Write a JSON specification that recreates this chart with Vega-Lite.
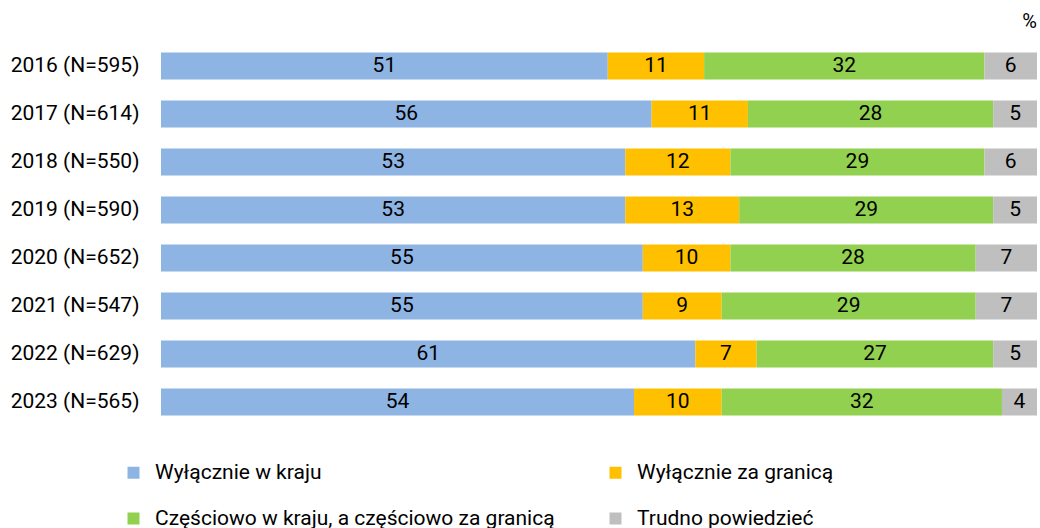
{
  "$schema": "https://vega.github.io/schema/vega-lite/v6.json",
  "width": 876,
  "height": 384,
  "autosize": {"type": "none"},
  "padding": {"left": 161, "top": 42, "right": 3, "bottom": 102},
  "background": "white",
  "title": {"text": "%", "anchor": "end", "orient": "top", "font": "Roboto", "fontSize": 20, "fontWeight": "normal", "color": "#000000", "offset": 10},
  "config": {"view": {"stroke": null}, "font": "Roboto"},
  "data": {"values": [
    {"year": "2016 (N=595)", "cat": "Wyłącznie w kraju", "order": 1, "value": 51},
    {"year": "2016 (N=595)", "cat": "Wyłącznie za granicą", "order": 2, "value": 11},
    {"year": "2016 (N=595)", "cat": "Częściowo w kraju, a częściowo za granicą", "order": 3, "value": 32},
    {"year": "2016 (N=595)", "cat": "Trudno powiedzieć", "order": 4, "value": 6},
    {"year": "2017 (N=614)", "cat": "Wyłącznie w kraju", "order": 1, "value": 56},
    {"year": "2017 (N=614)", "cat": "Wyłącznie za granicą", "order": 2, "value": 11},
    {"year": "2017 (N=614)", "cat": "Częściowo w kraju, a częściowo za granicą", "order": 3, "value": 28},
    {"year": "2017 (N=614)", "cat": "Trudno powiedzieć", "order": 4, "value": 5},
    {"year": "2018 (N=550)", "cat": "Wyłącznie w kraju", "order": 1, "value": 53},
    {"year": "2018 (N=550)", "cat": "Wyłącznie za granicą", "order": 2, "value": 12},
    {"year": "2018 (N=550)", "cat": "Częściowo w kraju, a częściowo za granicą", "order": 3, "value": 29},
    {"year": "2018 (N=550)", "cat": "Trudno powiedzieć", "order": 4, "value": 6},
    {"year": "2019 (N=590)", "cat": "Wyłącznie w kraju", "order": 1, "value": 53},
    {"year": "2019 (N=590)", "cat": "Wyłącznie za granicą", "order": 2, "value": 13},
    {"year": "2019 (N=590)", "cat": "Częściowo w kraju, a częściowo za granicą", "order": 3, "value": 29},
    {"year": "2019 (N=590)", "cat": "Trudno powiedzieć", "order": 4, "value": 5},
    {"year": "2020 (N=652)", "cat": "Wyłącznie w kraju", "order": 1, "value": 55},
    {"year": "2020 (N=652)", "cat": "Wyłącznie za granicą", "order": 2, "value": 10},
    {"year": "2020 (N=652)", "cat": "Częściowo w kraju, a częściowo za granicą", "order": 3, "value": 28},
    {"year": "2020 (N=652)", "cat": "Trudno powiedzieć", "order": 4, "value": 7},
    {"year": "2021 (N=547)", "cat": "Wyłącznie w kraju", "order": 1, "value": 55},
    {"year": "2021 (N=547)", "cat": "Wyłącznie za granicą", "order": 2, "value": 9},
    {"year": "2021 (N=547)", "cat": "Częściowo w kraju, a częściowo za granicą", "order": 3, "value": 29},
    {"year": "2021 (N=547)", "cat": "Trudno powiedzieć", "order": 4, "value": 7},
    {"year": "2022 (N=629)", "cat": "Wyłącznie w kraju", "order": 1, "value": 61},
    {"year": "2022 (N=629)", "cat": "Wyłącznie za granicą", "order": 2, "value": 7},
    {"year": "2022 (N=629)", "cat": "Częściowo w kraju, a częściowo za granicą", "order": 3, "value": 27},
    {"year": "2022 (N=629)", "cat": "Trudno powiedzieć", "order": 4, "value": 5},
    {"year": "2023 (N=565)", "cat": "Wyłącznie w kraju", "order": 1, "value": 54},
    {"year": "2023 (N=565)", "cat": "Wyłącznie za granicą", "order": 2, "value": 10},
    {"year": "2023 (N=565)", "cat": "Częściowo w kraju, a częściowo za granicą", "order": 3, "value": 32},
    {"year": "2023 (N=565)", "cat": "Trudno powiedzieć", "order": 4, "value": 4}
  ]},
  "transform": [
    {"stack": "value", "groupby": ["year"], "sort": [{"field": "order", "order": "ascending"}], "as": ["x0", "x1"]}
  ],
  "encoding": {
    "y": {
      "field": "year", "type": "nominal", "sort": null,
      "scale": {"paddingInner": 0.4375, "paddingOuter": 0.21875},
      "axis": {"title": null, "domain": false, "ticks": false, "labelPadding": 22, "labelFont": "Roboto", "labelFontSize": 21, "labelColor": "#000000", "labelLimit": 300}
    }
  },
  "layer": [
    {
      "mark": {"type": "bar"},
      "encoding": {
        "x": {"field": "x0", "type": "quantitative", "scale": {"domain": [0, 100], "nice": false}, "axis": null},
        "x2": {"field": "x1"},
        "color": {
          "field": "cat", "type": "nominal",
          "scale": {
            "domain": ["Wyłącznie w kraju", "Wyłącznie za granicą", "Częściowo w kraju, a częściowo za granicą", "Trudno powiedzieć"],
            "range": ["#8EB4E3", "#FFC000", "#92D050", "#BFBFBF"]
          },
          "legend": {
            "title": null, "orient": "none", "legendX": -38, "legendY": 420, "direction": "horizontal", "columns": 2,
            "symbolType": "square", "symbolSize": 144, "symbolStrokeWidth": 0, "labelOffset": 11,
            "labelFont": "Roboto", "labelFontSize": 21, "labelColor": "#000000", "labelLimit": 600,
            "columnPadding": 50, "rowPadding": 24, "padding": 0
          }
        }
      }
    },
    {
      "transform": [{"fold": ["x0", "x1"], "as": ["edge", "pos"]}],
      "mark": {"type": "text", "font": "Roboto", "fontSize": 21, "color": "#000000", "baseline": "middle", "align": "center"},
      "encoding": {
        "x": {"aggregate": "mean", "field": "pos", "type": "quantitative"},
        "detail": {"field": "cat", "type": "nominal"},
        "text": {"aggregate": "max", "field": "value", "type": "quantitative"}
      }
    }
  ]
}
